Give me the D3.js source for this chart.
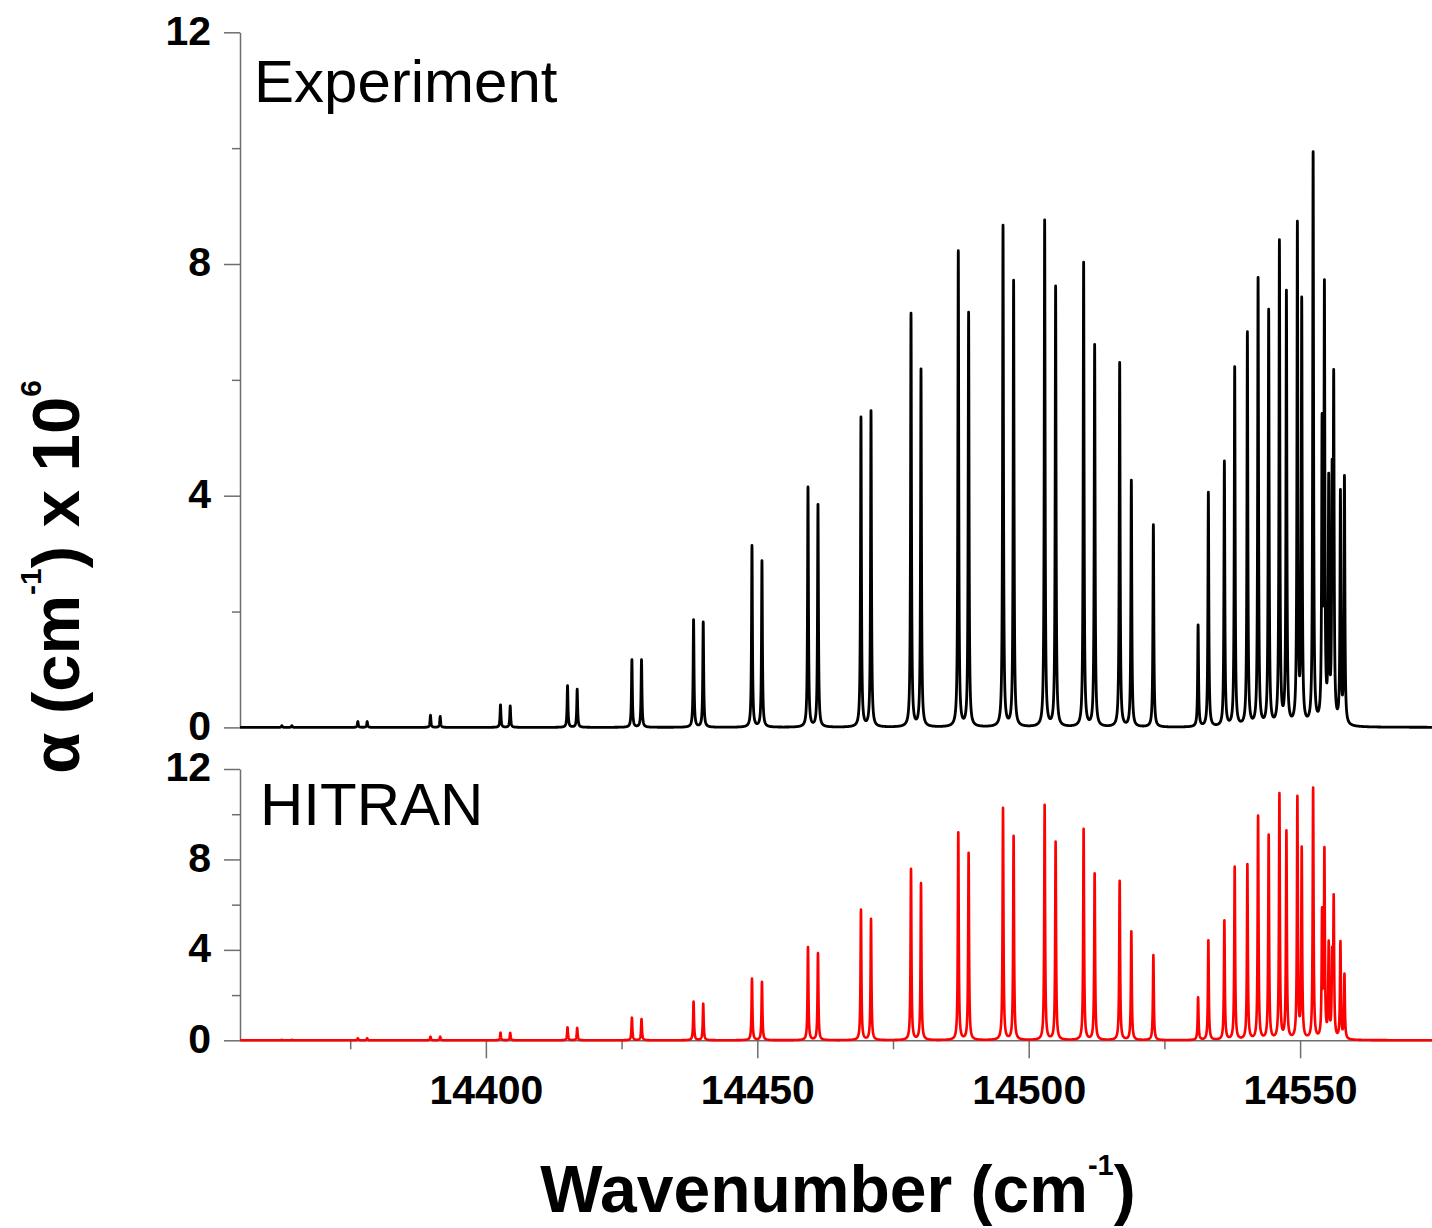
<!DOCTYPE html>
<html><head><meta charset="utf-8">
<script src="https://cdn.jsdelivr.net/npm/d3@7"></script>
<style>body{margin:0;background:#fff}svg{display:block}</style>
</head><body>
<svg id="c" width="1432" height="1228"></svg>
<script>
// Line centres (cm^-1)
const lineCenters = [14362.41,14364.25,14376.41,14378.13,14389.79,14391.58,14402.69,14404.48,14415.04,14416.82,
  14426.90,14428.67,14438.26,14440.04,14449.02,14450.86,14459.34,14461.18,14469.10,14470.95,
  14478.32,14480.16,14487.03,14488.93,14495.27,14497.22,14502.94,14504.96,14510.12,14512.15,
  14516.76,14518.91,14522.97,14531.21,14533.10,14536.05,14537.95,14540.29,14542.26,14544.21,
  14546.19,14547.48,14549.50,14550.30,14552.40,14554.05,14554.48,14555.27,14555.90,14556.19,
  14557.43,14558.17];
// Peak heights (alpha x 10^6, cm^-1) in the experiment panel
const experimentPeaks = [0.03,0.03,0.10,0.10,0.21,0.19,0.39,0.37,0.72,0.66,
  1.17,1.17,1.86,1.82,3.14,2.88,4.15,3.85,5.36,5.47,
  7.15,6.19,8.23,7.17,8.67,7.72,8.76,7.62,8.03,6.61,
  6.30,4.27,3.50,1.77,4.06,4.60,6.23,6.83,7.77,7.22,
  8.42,7.55,8.74,7.43,9.94,5.42,7.73,4.39,4.63,6.18,
  4.11,4.35];
// Peak heights in the HITRAN panel
const hitranPeaks = [0.02,0.02,0.09,0.09,0.16,0.16,0.34,0.33,0.57,0.55,
  1.00,0.94,1.71,1.62,2.73,2.59,4.13,3.86,5.78,5.37,
  7.59,6.96,9.20,8.29,10.28,9.04,10.42,8.79,9.36,7.39,
  7.06,4.82,3.77,1.90,4.42,5.31,7.68,7.80,9.94,9.10,
  10.94,9.29,10.81,8.57,11.18,5.88,8.55,4.41,4.14,6.46,
  4.39,2.95];
const yTicksMajor = [0,4,8,12];
const yTicksMinor = [2,6,10];
const xTicksMajor = [14400,14450,14500,14550];
const xTicksMinor = [14375,14425,14475,14525];
const panelLabels = ["Experiment","HITRAN"];

const svg = d3.select("#c");
const FONT = "'Liberation Sans', Arial, sans-serif";
const AX = "#6e6e6e";

const x = d3.scaleLinear().domain([14354.7,14574.3]).range([240,1432]);
const yTop = d3.scaleLinear().domain([0,12]).range([727.4,32.3]);
const yBot = d3.scaleLinear().domain([0,12]).range([1040.3,769]);

const gamma = 0.095;
const lor = d => gamma*gamma/(d*d+gamma*gamma);
function fitAmps(h){
  let a = h.slice();
  for(let it=0; it<60; it++){
    a = h.map((hi,i)=>{
      let s=0;
      for(let j=0;j<h.length;j++) if(j!==i) s += a[j]*lor(lineCenters[i]-lineCenters[j]);
      return Math.max(0, hi-s);
    });
  }
  return a;
}
function spectrum(h){
  const a = fitAmps(h);
  const [x0,x1] = x.domain();
  const grid = d3.range(x0,x1,0.01).concat(lineCenters).sort((p,q)=>p-q);
  return grid.map(v=>{
    let s=0;
    for(let j=0;j<a.length;j++){ s += a[j]*lor(v-lineCenters[j]); }
    return [v,s];
  });
}

function yAxis(scale){
  const g = svg.append("g").attr("transform","translate(240,0)");
  g.call(d3.axisLeft(scale).tickValues(yTicksMajor).tickSize(16).tickSizeOuter(0).tickPadding(13).tickFormat(d3.format("d")));
  g.append("g").call(d3.axisLeft(scale).tickValues(yTicksMinor).tickSize(8).tickSizeOuter(0).tickFormat(""))
    .select(".domain").remove();
  g.selectAll("path,line").attr("stroke",AX).attr("stroke-width",1.5);
  g.selectAll("text").attr("font-family",FONT).attr("font-weight","bold").attr("font-size",41)
    .attr("fill","#000").attr("dy","0.29em");
  return g;
}
yAxis(yTop);
yAxis(yBot);

// x axis (bottom panel)
const gx = svg.append("g").attr("transform","translate(0,1040.3)");
gx.call(d3.axisBottom(x).tickValues(xTicksMajor).tickSize(18).tickSizeOuter(0).tickPadding(17).tickFormat(d3.format("d")));
gx.append("g").call(d3.axisBottom(x).tickValues(xTicksMinor).tickSize(9).tickSizeOuter(0).tickFormat(""))
  .select(".domain").remove();
gx.selectAll("path,line").attr("stroke",AX).attr("stroke-width",1.5);
gx.selectAll("text").attr("font-family",FONT).attr("font-weight","bold").attr("font-size",41).attr("fill","#000");

// spectra
const lineTop = d3.line().x(d=>x(d[0])).y(d=>yTop(d[1]));
const lineBot = d3.line().x(d=>x(d[0])).y(d=>yBot(d[1]));
svg.append("path").datum(spectrum(experimentPeaks)).attr("d",lineTop)
  .attr("fill","none").attr("stroke","#000").attr("stroke-width",2.8).attr("stroke-linejoin","round");
svg.append("path").datum(spectrum(hitranPeaks)).attr("d",lineBot)
  .attr("fill","none").attr("stroke","#ff0000").attr("stroke-width",2.6).attr("stroke-linejoin","round");

// panel labels
svg.append("text").attr("x",254).attr("y",101.7).attr("font-family",FONT).attr("font-size",60).attr("fill","#000").text(panelLabels[0]);
svg.append("text").attr("x",260).attr("y",825).attr("font-family",FONT).attr("font-size",60).attr("fill","#000").text(panelLabels[1]);

// x title
const xt = svg.append("text").attr("x",838).attr("y",1212).attr("text-anchor","middle")
  .attr("font-family",FONT).attr("font-weight","bold").attr("font-size",66).attr("fill","#000");
xt.append("tspan").text("Wavenumber (cm");
xt.append("tspan").attr("font-size",29).attr("dy",-37).text("-1");
xt.append("tspan").attr("dy",37).text(")");

// y title
const yt = svg.append("text").attr("transform","translate(79,577) rotate(-90)").attr("text-anchor","middle")
  .attr("font-family",FONT).attr("font-weight","bold").attr("font-size",67).attr("fill","#000");
yt.append("tspan").text("\u03b1 (cm");
yt.append("tspan").attr("font-size",30).attr("dy",-38).text("-1");
yt.append("tspan").attr("dy",38).text(") x 10");
yt.append("tspan").attr("font-size",30).attr("dy",-38).text("6");
</script>
</body></html>
